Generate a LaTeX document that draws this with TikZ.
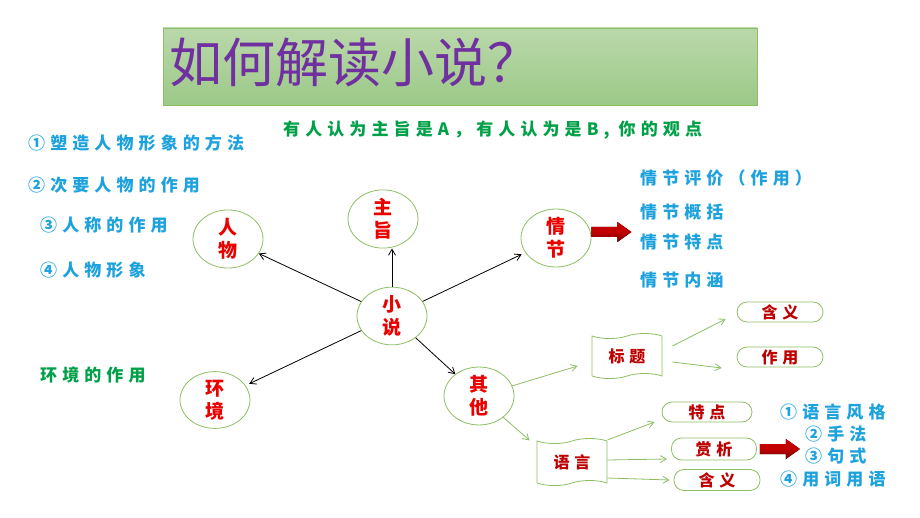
\documentclass[tikz,border=0pt]{standalone}
\usepackage{fontspec}
\newfontfamily\cjk{Noto Sans CJK SC}
\newfontfamily\cjkwide[LetterSpace=30]{Noto Sans CJK SC}
\usetikzlibrary{
  positioning,
  shapes.geometric,
  shapes.symbols,
  arrows.meta,
  calc
}
\definecolor{noteblue}{RGB}{30,162,222}
\definecolor{notegreen}{RGB}{0,160,72}
\definecolor{ringgreen}{RGB}{140,190,100}
\definecolor{topicred}{RGB}{235,0,0}
\definecolor{labelred}{RGB}{190,0,0}
\definecolor{titlepurple}{RGB}{112,48,160}

\begin{document}
\begin{tikzpicture}[
  x=1pt, y=-1pt,
  font=\cjk,
  topic/.style={draw=ringgreen, ellipse, fill=white, line width=0.8pt, minimum width=70pt, minimum height=54pt, inner sep=0pt, align=center, text=topicred, font=\cjk\fontsize{19}{23}\selectfont\bfseries},
  scroll/.style={draw=ringgreen, tape, line width=0.8pt, minimum width=70pt, minimum height=45pt, inner sep=0pt, text=labelred, font=\cjkwide\fontsize{16}{18}\selectfont\bfseries},
  pill/.style={draw=ringgreen, rectangle, rounded corners=10pt, line width=0.8pt, minimum width=86pt, minimum height=20pt, inner sep=0pt, text=labelred, font=\cjkwide\fontsize{16}{18}\selectfont\bfseries},
  note/.style={anchor=west, inner sep=0pt, text=noteblue, font=\cjkwide\fontsize{17}{19}\selectfont\bfseries},
  gnote/.style={note, text=notegreen},
  arrow/.style={-{Straight Barb[length=6pt, width=7pt]}, line width=0.8pt},
  garrow/.style={-{Straight Barb[length=6pt, width=7pt]}, line width=0.8pt, draw=ringgreen},
  bigarrow/.pic={
    \fill[top color=red!80!black, bottom color=red!45!black, middle color=red!75!black]
      (0,-5) -- (26,-5) -- (26,-10) -- (40,0) -- (26,10) -- (26,5) -- (0,5) -- cycle;
  }
]
\useasboundingbox (0,0) rectangle (920,518);

% Title
\node[draw=ringgreen, top color={rgb,255:red,186;green,216;blue,170}, bottom color={rgb,255:red,156;green,201;blue,136}, minimum width=594pt, minimum height=77pt, inner sep=0pt] (banner) at (460,66.5) {};
\node[anchor=west, inner sep=0pt, text=titlepurple, font=\cjk\fontsize{53}{53}\selectfont] (title) at (169,62) {如何解读小说？};

\node[gnote] (question) at (283,130) {有人认为主旨是A，有人认为是B, 你的观点};

% Nodes
\node[topic] (xs) at (392,316) {小\\说};
\node[topic] (rw) at (228,239) {人\\物};
\node[topic] (zz) at (383,219) {主\\旨};
\node[topic] (qj) at (556,238) {情\\节};
\node[topic] (hj) at (215,400) {环\\境};
\node[topic] (qt) at (479,396) {其\\他};

\node[scroll] (bt) at (627,356) {标题};
\node[scroll, minimum height=47pt] (yy) at (572,462) {语言};

\node[pill] (hyi) at (780,312) {含义};
\node[pill] (zy) at (780,357) {作用};
\node[pill, minimum width=90pt] (td) at (707,412) {特点};
\node[pill, minimum width=85pt, minimum height=22pt] (sx) at (714,449) {赏析};
\node[pill, minimum height=21pt] (hye) at (717,480) {含义};

% Notes
\node[note] (rwa) at (28,143) {①塑造人物形象的方法};
\node[note] (rwb) at (28,185) {②次要人物的作用};
\node[note] (rwc) at (40,225) {③人称的作用};
\node[note] (rwd) at (40,270) {④人物形象};
\node[gnote] (hja) at (40,375) {环境的作用};

\node[note] (qja) at (640,178) {情节评价（作用）};
\node[note] (qjb) at (640,212) {情节概括};
\node[note] (qjc) at (640,242) {情节特点};
\node[note] (qjd) at (640,280) {情节内涵};

\node[note] (sxa) at (780,412) {①语言风格};
\node[note] (sxb) at (805,434) {②手法};
\node[note] (sxc) at (805,456) {③句式};
\node[note] (sxd) at (780,479) {④用词用语};

% Arrows
\draw[arrow] (xs) -- (rw);
\draw[arrow] (xs.north) -- (xs.north |- zz.south);
\draw[arrow, shorten >=4pt] (xs) -- (qj);
\draw[arrow, shorten >=4pt] (xs) -- (hj);
\draw[arrow] (xs) -- (qt);

\draw[garrow] (qt) -- ([xshift=-14pt, yshift=-10pt]bt.west);
\draw[garrow] ([xshift=10pt, yshift=10pt]bt.east) -- ([xshift=-11pt, yshift=-7pt]hyi.west);
\draw[garrow] ([xshift=10pt, yshift=-6pt]bt.east) -- ([xshift=-15pt, yshift=-11pt]zy.west);
\draw[garrow] (qt) -- ([xshift=-7pt]yy.north west);
\draw[garrow] ([yshift=22pt]yy.east) -- ([xshift=-7pt, yshift=-10pt]td.west);
\draw[garrow] ([yshift=2pt]yy.east) -- ([xshift=-4pt, yshift=-10pt]sx.west);
\draw[garrow] ([yshift=-16pt]yy.east) -- ([xshift=-4pt]hye.west);

\pic at ([yshift=6pt]qj.east) {bigarrow};
\pic at ([xshift=3pt]sx.east) {bigarrow};

\end{tikzpicture}
\end{document}
